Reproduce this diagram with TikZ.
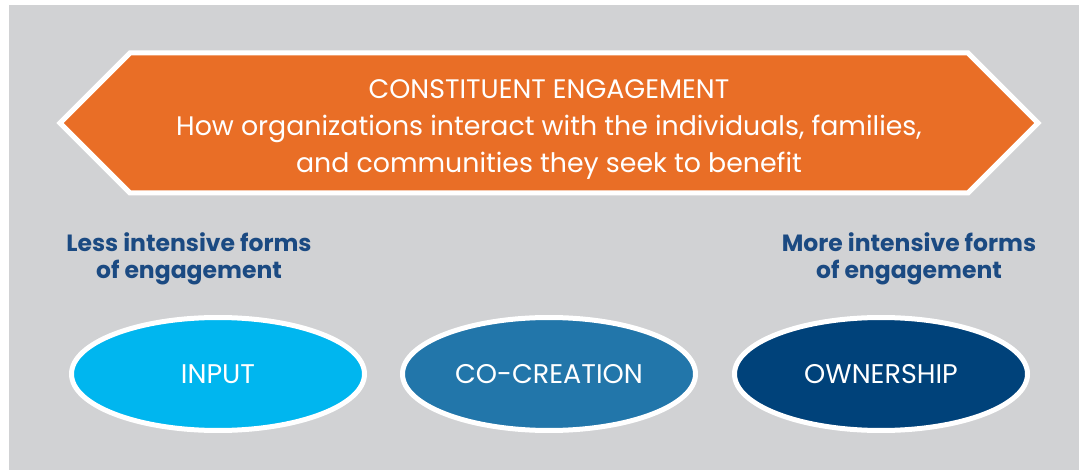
\documentclass[tikz,border=0pt]{standalone}
\usepackage{fontspec}
\setmainfont{Poppins}
\usetikzlibrary{shapes.geometric}
\definecolor{bggray}{HTML}{D1D2D4}
\definecolor{engorange}{HTML}{E96E26}
\definecolor{inputblue}{HTML}{00B6EF}
\definecolor{cocreblue}{HTML}{2276AA}
\definecolor{ownblue}{HTML}{00427A}
\definecolor{labelblue}{HTML}{1B4A82}
\tikzset{
  phase/.style={draw=white, line width=5pt, ellipse, minimum width=293pt, minimum height=113pt, inner sep=0pt, text=white, font=\fontsize{27}{32}\selectfont},
  sidelabel/.style={align=center, text=labelblue, font=\bfseries\fontsize{23.5}{27}\selectfont}
}
\begin{document}
\begin{tikzpicture}[x=1pt,y=-1pt]
\useasboundingbox (0,0) rectangle (1079,470);
\fill[bggray] (9,5) rectangle (1079,470);
\path[fill=engorange,draw=white,line width=5pt,line join=miter] (60,123) -- (130,53) -- (968,53) -- (1038,123) -- (968,193) -- (130,193) -- cycle;
\node[align=center, text=white, font=\fontsize{26.8}{37}\selectfont] (banner) at (549,129) {CONSTITUENT ENGAGEMENT\\How organizations interact with the individuals, families,\\and communities they seek to benefit};
\node[sidelabel] (less) at (189,259) {Less intensive forms\\of engagement};
\node[sidelabel] (more) at (909,259) {More intensive forms\\of engagement};
\node[phase, fill=inputblue] (input) at (218,374) {INPUT};
\node[phase, fill=cocreblue] (cocreation) at (549,374) {CO-CREATION};
\node[phase, fill=ownblue] (ownership) at (881,374) {OWNERSHIP};
\end{tikzpicture}
\end{document}
